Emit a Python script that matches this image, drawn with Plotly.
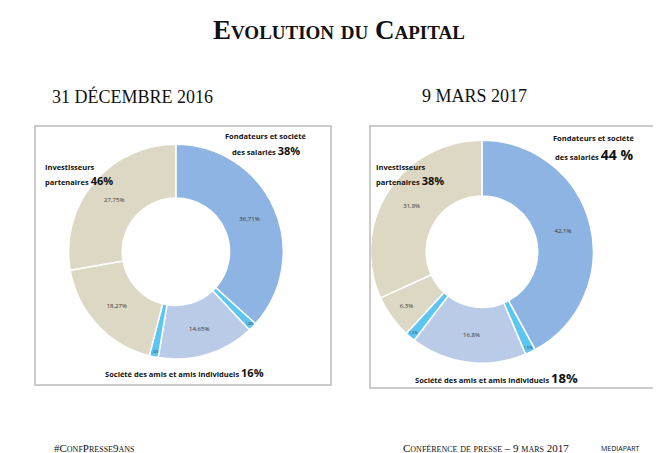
import plotly.graph_objects as go

labels = ["Fondateurs", "Intermédiaire 1", "Société des amis", "Intermédiaire 2", "Investisseurs B", "Investisseurs A"]
values_2016 = [36.71, 1.28, 14.65, 1.34, 18.27, 27.75]
text_2016 = ["36,71%", "1,28%", "14,65%", "1,34%", "18,27%", "27,75%"]
values_2017 = [42.1, 1.5, 16.8, 1.5, 6.3, 31.8]
text_2017 = ["42,1%", "1,5%", "16,8%", "1,5%", "6,3%", "31,8%"]
colors = ["#8db4e2", "#5cc6f2", "#b9cbe6", "#5cc6f2", "#ddd8c4", "#ddd8c4"]

SERIF = "Liberation Serif"
SANS = "Open Sans"

fig = go.Figure()
for vals, txt, dom in [
    (values_2016, text_2016, dict(x=[0.090, 0.418], y=[0.225, 0.699])),
    (values_2017, text_2017, dict(x=[0.548, 0.886], y=[0.216, 0.708])),
]:
    fig.add_trace(go.Pie(
        labels=labels, values=vals, text=txt, textinfo="text",
        textposition="inside", insidetextorientation="horizontal",
        textfont=dict(size=6, color="#333", family=SANS),
        hole=0.5, sort=False, direction="clockwise", rotation=0,
        marker=dict(colors=colors, line=dict(color="white", width=1.5)),
        domain=dom, showlegend=False,
    ))

ann = [
    dict(x=0.5, y=22, text="<b>Evolution du Capital</b>", size=27, fam=SERIF, var="small-caps"),
    dict(x=125, y=88, text="31 DÉCEMBRE 2016", size=18, fam=SERIF),
    dict(x=466, y=88, text="9 MARS 2017", size=18, fam=SERIF),
    dict(x=86, y=440, text="#ConfPresse9ans", size=11, fam=SERIF, var="small-caps"),
    dict(x=478, y=440, text="Conférence de presse – 9 mars 2017", size=11, fam=SERIF, var="small-caps"),
    dict(x=612, y=440, text="MEDIAPART", size=7, fam=SANS),
    dict(x=258, y=128, text="<b>Fondateurs et société</b>", size=7.5, fam=SANS),
    dict(x=258, y=142, text="<b>des salariés <span style='font-size:11px'>38%</span></b>", size=7.5, fam=SANS),
    dict(x=35, y=159, text="<b>Investisseurs</b>", size=7.5, fam=SANS, align="left"),
    dict(x=35, y=173, text="<b>partenaires <span style='font-size:11px'>46%</span></b>", size=7.5, fam=SANS, align="left"),
    dict(x=176, y=364, text="<b>Société des amis et amis individuels <span style='font-size:11px'>16%</span></b>", size=7.5, fam=SANS),
    dict(x=586, y=130, text="<b>Fondateurs et société</b>", size=7.5, fam=SANS),
    dict(x=586, y=146, text="<b>des salariés <span style='font-size:14px'>44 %</span></b>", size=7.5, fam=SANS),
    dict(x=366, y=159, text="<b>Investisseurs</b>", size=7.5, fam=SANS, align="left"),
    dict(x=366, y=173, text="<b>partenaires <span style='font-size:11px'>38%</span></b>", size=7.5, fam=SANS, align="left"),
    dict(x=488, y=370, text="<b>Société des amis et amis individuels <span style='font-size:13px'>18%</span></b>", size=7.5, fam=SANS),
]
for a in ann:
    xpaper = a["x"] if a["x"] <= 1 else a["x"] / 661
    fig.add_annotation(
        x=xpaper, y=1 - a["y"] / 453, xref="paper", yref="paper",
        text=a["text"], showarrow=False, align=a.get("align", "center"),
        xanchor="left" if a.get("align") == "left" else "center", yanchor="middle",
        font=dict(size=a["size"], family=a["fam"], color="#111", variant=a.get("var", "normal")),
    )

for x0, y0, x1, y1 in [(27, 118, 323, 377), (362, 118, 652, 380)]:
    fig.add_shape(type="rect", xref="paper", yref="paper",
                  x0=x0 / 661, x1=x1 / 661, y0=1 - y1 / 453, y1=1 - y0 / 453,
                  line=dict(color="#bbbbbb", width=1.5))

fig.update_layout(width=661, height=453, margin=dict(l=0, r=0, t=0, b=0),
                  paper_bgcolor="white", plot_bgcolor="white")
fig.write_html("out.html")
